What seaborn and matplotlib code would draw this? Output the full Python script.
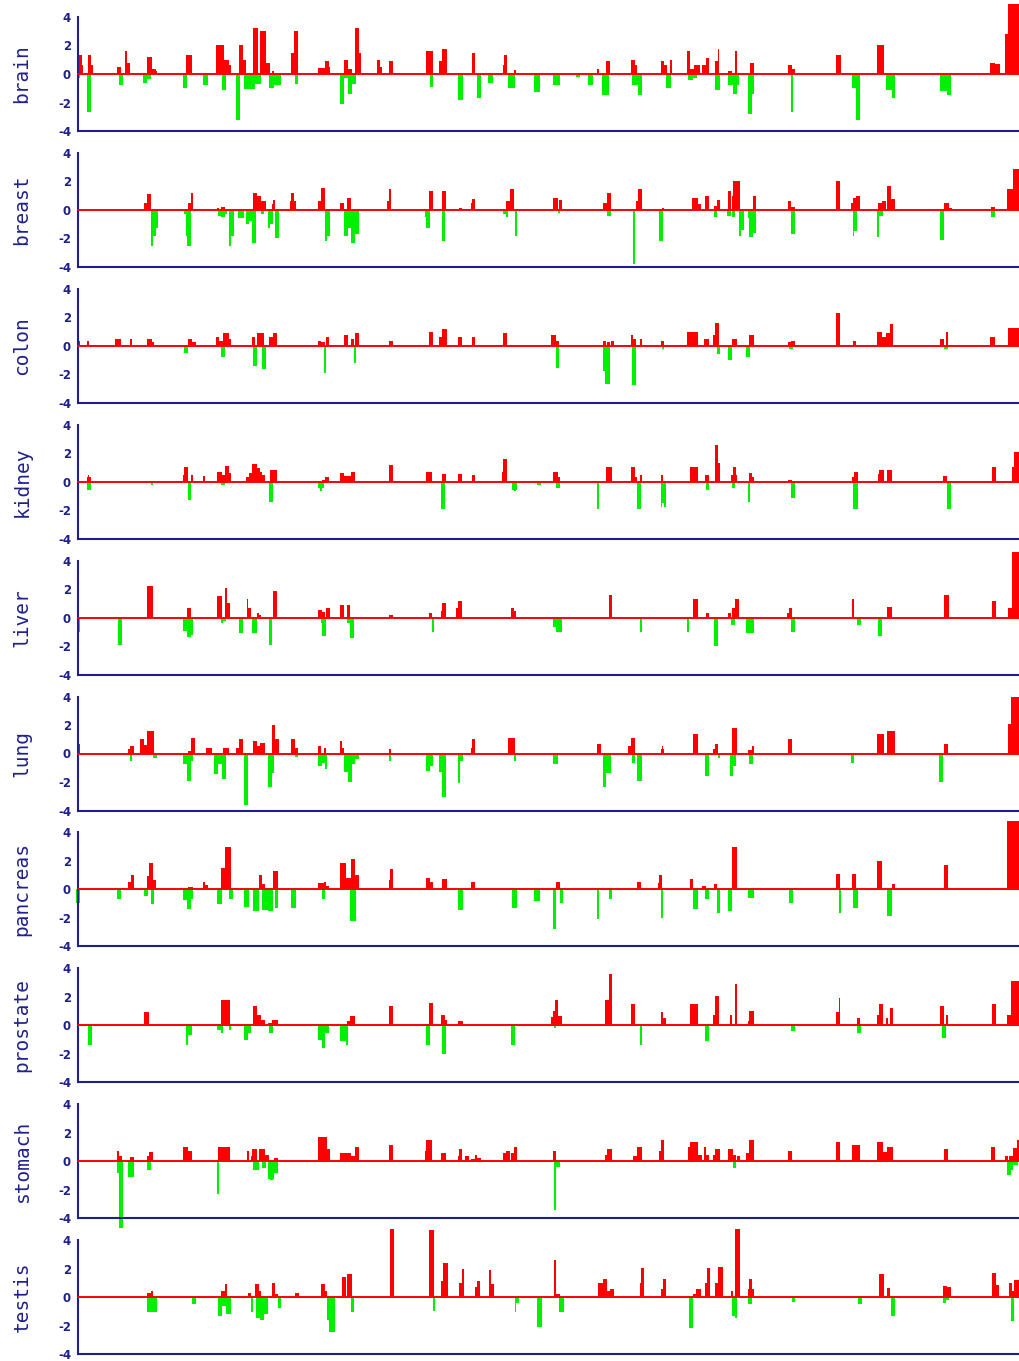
"""
Expression profile per tissue: red bars above zero, green bars below.
"""
import numpy as np
import pandas as pd
import matplotlib
matplotlib.use("Agg")
import matplotlib.pyplot as plt
import seaborn as sns

tissues = ["brain", "breast", "colon", "kidney", "liver",
           "lung", "pancreas", "prostate", "stomach", "testis"]

# spans along the position axis: (start, end, value)
brain_up = [(120, 126, 1.35), (126, 128, 0.6), (136, 140, 1.35), (140, 144, 0.6), (180, 186, 0.5),
            (192, 196, 1.6), (196, 200, 0.8), (226, 234, 1.2), (234, 240, 0.35), (240, 242, 0.2),
            (287, 296, 1.35), (333, 345, 2.05), (345, 352, 1.0), (352, 356, 0.6), (368, 374, 2.05),
            (374, 378, 1.0), (390, 397, 3.2), (400, 410, 3.0), (410, 416, 0.8), (418, 422, 0.2),
            (448, 452, 1.5), (452, 458, 3.0), (490, 500, 0.45), (500, 506, 0.9), (506, 508, 0.5),
            (530, 536, 1.0), (536, 542, 0.35), (546, 552, 3.2), (552, 556, 1.5), (580, 584, 1.0),
            (584, 588, 0.5), (598, 604, 0.9), (656, 666, 1.6), (676, 680, 0.9), (680, 688, 1.75),
            (726, 730, 1.5), (774, 776, 0.6), (776, 780, 1.35), (790, 794, 0.25), (918, 922, 0.35),
            (932, 938, 0.9), (970, 976, 1.0), (976, 980, 0.6), (1016, 1022, 0.9), (1022, 1026, 0.6),
            (1030, 1034, 1.0), (1056, 1062, 1.6), (1062, 1068, 0.35), (1068, 1076, 0.6),
            (1080, 1086, 0.6), (1086, 1090, 1.15), (1100, 1104, 0.9), (1104, 1106, 1.75),
            (1120, 1126, 0.2), (1130, 1134, 1.6), (1154, 1160, 0.8), (1212, 1218, 0.65),
            (1218, 1222, 0.35), (1286, 1294, 1.35), (1348, 1360, 2.05), (1522, 1530, 0.8),
            (1530, 1538, 0.7), (1545, 1550, 2.8), (1550, 1568, 4.9)]
brain_down = [(120, 124, -0.25), (134, 140, -2.7), (184, 190, -0.75), (220, 226, -0.6), (226, 232, -0.35),
              (282, 288, -0.95), (312, 320, -0.75), (342, 348, -1.1), (364, 370, -3.2), (376, 392, -1.05),
              (392, 402, -0.7), (414, 422, -0.95), (422, 432, -0.75), (454, 458, -0.7), (524, 530, -2.1),
              (530, 536, -0.25), (536, 542, -1.4), (542, 548, -0.7), (662, 666, -0.9), (704, 712, -1.85),
              (734, 740, -1.65), (750, 758, -0.65), (782, 792, -1.0), (822, 830, -1.25), (850, 862, -0.75),
              (886, 892, -0.2), (904, 912, -0.75), (926, 936, -1.5), (972, 982, -0.75), (982, 988, -1.5),
              (1024, 1032, -1.0), (1058, 1066, -0.45), (1066, 1072, -0.25), (1100, 1108, -1.15),
              (1120, 1128, -0.75), (1128, 1134, -1.4), (1134, 1136, -0.75), (1150, 1156, -2.8),
              (1156, 1160, -1.4), (1216, 1220, -2.7), (1310, 1316, -0.95), (1316, 1322, -3.25),
              (1362, 1372, -1.15), (1372, 1376, -1.65), (1446, 1456, -1.2), (1456, 1462, -1.45)]

breast_up = [(222, 226, 0.5), (226, 232, 1.1), (290, 294, 0.5), (294, 298, 1.2), (334, 338, 0.15),
             (340, 346, 0.2), (390, 396, 1.2), (396, 402, 1.0), (402, 410, 0.6), (418, 420, 0.4),
             (420, 424, 0.7), (446, 448, 0.6), (448, 452, 1.2), (452, 456, 0.6), (490, 494, 0.6),
             (494, 500, 1.55), (524, 530, 0.45), (534, 540, 0.85), (596, 598, 0.6), (598, 602, 1.45),
             (660, 666, 1.35), (680, 686, 1.35), (706, 710, 0.15), (724, 726, 0.45), (726, 730, 0.75),
             (778, 784, 0.6), (784, 790, 1.45), (850, 858, 0.85), (860, 864, 0.7), (928, 934, 0.45),
             (934, 940, 1.2), (978, 982, 0.6), (982, 988, 1.45), (1018, 1022, 0.15), (1064, 1074, 0.85),
             (1074, 1078, 0.4), (1084, 1090, 1.0), (1098, 1102, 0.3), (1102, 1108, 0.7),
             (1120, 1124, 1.3), (1126, 1128, 1.0), (1128, 1138, 2.0), (1158, 1162, 1.0),
             (1212, 1216, 0.6), (1216, 1222, 0.2), (1286, 1292, 2.0), (1308, 1312, 0.5),
             (1312, 1316, 0.85), (1316, 1322, 1.0), (1350, 1356, 0.5), (1356, 1362, 0.6),
             (1364, 1370, 1.7), (1370, 1376, 0.75), (1452, 1460, 0.45), (1460, 1464, 0.15),
             (1524, 1530, 0.2), (1548, 1558, 1.45), (1558, 1568, 2.9)]
breast_down = [(232, 236, -2.5), (236, 240, -1.8), (240, 244, -1.3), (284, 286, -0.3), (286, 288, -1.8),
               (288, 294, -2.5), (336, 340, -0.4), (340, 346, -0.5), (346, 350, -0.3), (352, 356, -2.5),
               (356, 360, -1.8), (366, 376, -0.6), (378, 384, -1.0), (384, 388, -0.8), (388, 394, -2.3),
               (402, 406, -0.3), (412, 416, -1.3), (416, 420, -1.0), (424, 430, -2.0), (500, 504, -2.2),
               (504, 508, -1.8), (530, 536, -1.8), (536, 540, -1.3), (540, 546, -2.3), (546, 552, -1.7),
               (654, 656, -0.5), (656, 662, -1.3), (680, 684, -2.2), (774, 778, -0.3), (778, 782, -0.5),
               (792, 796, -1.8), (858, 862, -0.2), (934, 940, -0.4), (974, 976, -3.8), (1014, 1020, -2.2),
               (1098, 1102, -0.5), (1118, 1124, -0.4), (1126, 1130, -0.5), (1136, 1140, -1.8),
               (1140, 1144, -1.4), (1150, 1152, -0.6), (1152, 1158, -1.9), (1158, 1162, -1.6),
               (1216, 1222, -1.7), (1312, 1314, -1.8), (1314, 1318, -1.5), (1348, 1352, -1.9),
               (1352, 1358, -0.4), (1446, 1452, -2.1), (1524, 1530, -0.5)]

colon_up = [(120, 124, 0.35), (134, 138, 0.35), (178, 186, 0.45), (200, 204, 0.45), (226, 234, 0.45),
            (234, 238, 0.25), (290, 296, 0.45), (296, 302, 0.25), (332, 338, 0.6), (338, 344, 0.35),
            (344, 352, 0.9), (352, 356, 0.45), (388, 392, 0.6), (396, 406, 0.9), (414, 420, 0.6),
            (420, 426, 0.9), (490, 494, 0.35), (494, 500, 0.25), (502, 506, 0.6), (530, 536, 0.75),
            (540, 544, 0.45), (546, 552, 0.9), (598, 604, 0.35), (660, 666, 1.0), (676, 680, 0.6),
            (680, 688, 1.2), (704, 710, 0.6), (726, 730, 0.6), (774, 780, 0.9), (848, 856, 0.75),
            (856, 860, 0.35), (928, 932, 0.35), (934, 938, 0.25), (940, 944, 0.35), (970, 974, 0.75),
            (974, 978, 0.45), (984, 988, 0.45), (1016, 1022, 0.35), (1056, 1074, 1.0),
            (1082, 1090, 0.45), (1096, 1100, 0.75), (1100, 1106, 1.6), (1126, 1134, 0.45),
            (1152, 1160, 0.75), (1212, 1216, 0.25), (1216, 1222, 0.35), (1286, 1292, 2.3),
            (1312, 1316, 0.35), (1348, 1356, 1.0), (1356, 1362, 0.6), (1362, 1368, 0.9),
            (1368, 1374, 1.5), (1446, 1452, 0.45), (1454, 1458, 1.0), (1522, 1530, 0.6),
            (1550, 1568, 1.25)]
colon_down = [(284, 290, -0.5), (340, 346, -0.8), (390, 396, -1.4), (404, 410, -1.6), (498, 502, -1.9),
              (544, 548, -1.2), (856, 860, -1.55), (928, 930, -1.8), (930, 938, -2.7), (972, 978, -2.75),
              (1018, 1022, -0.2), (1102, 1108, -0.6), (1120, 1126, -1.0), (1148, 1154, -0.8),
              (1214, 1220, -0.2), (1452, 1458, -0.2)]

kidney_up = [(134, 136, 0.35), (136, 138, 0.45), (138, 140, 0.35), (282, 284, 0.45), (284, 290, 1.0),
             (294, 298, 0.45), (312, 316, 0.4), (334, 342, 0.7), (342, 346, 0.45), (346, 352, 1.1),
             (352, 356, 0.6), (378, 384, 0.35), (384, 388, 0.6), (388, 396, 1.25), (396, 400, 0.95),
             (400, 404, 0.7), (404, 408, 0.45), (416, 426, 0.8), (496, 500, 0.15), (500, 506, 0.3),
             (524, 530, 0.6), (530, 540, 0.4), (540, 546, 0.7), (598, 604, 1.15), (656, 664, 0.65),
             (680, 686, 0.55), (704, 710, 0.55), (726, 730, 0.45), (772, 774, 0.7), (774, 780, 1.6),
             (850, 858, 0.7), (858, 862, 0.35), (932, 942, 1.0), (970, 976, 1.0), (976, 980, 0.35),
             (984, 988, 0.45), (1016, 1020, 0.45), (1062, 1074, 1.0), (1084, 1090, 0.45),
             (1100, 1104, 2.55), (1104, 1108, 1.3), (1124, 1128, 0.45), (1128, 1132, 1.0),
             (1132, 1134, 0.45), (1152, 1156, 0.6), (1156, 1160, 0.35), (1212, 1218, 0.15),
             (1310, 1314, 0.35), (1314, 1320, 0.65), (1350, 1352, 0.55), (1352, 1360, 0.8),
             (1364, 1372, 0.8), (1450, 1456, 0.4), (1526, 1532, 1.0), (1556, 1560, 1.0),
             (1560, 1568, 2.1)]
kidney_down = [(134, 140, -0.55), (232, 236, -0.2), (290, 294, -1.25), (340, 346, -0.2), (414, 420, -1.4),
               (490, 492, -0.45), (492, 496, -0.65), (496, 498, -0.45), (678, 684, -1.9), (788, 790, -0.55),
               (790, 794, -0.65), (794, 796, -0.55), (826, 832, -0.2), (856, 862, -0.45), (918, 922, -1.95),
               (980, 986, -1.95), (1016, 1018, -1.8), (1018, 1022, -1.5), (1022, 1024, -1.8),
               (1086, 1090, -0.55), (1126, 1130, -0.45), (1150, 1154, -1.4), (1216, 1222, -1.15),
               (1312, 1320, -1.9), (1456, 1462, -1.9)]

liver_up = [(226, 236, 2.25), (288, 294, 0.65), (334, 342, 1.55), (346, 350, 2.1), (350, 354, 1.05),
            (380, 382, 1.3), (382, 386, 0.65), (396, 398, 0.35), (398, 402, 0.2), (420, 426, 1.9),
            (490, 496, 0.5), (496, 500, 0.4), (502, 508, 0.65), (524, 530, 0.9), (534, 538, 0.9),
            (598, 604, 0.2), (660, 664, 0.35), (678, 680, 0.45), (680, 686, 1.0), (702, 704, 0.65),
            (704, 710, 1.2), (786, 790, 0.65), (790, 794, 0.45), (936, 942, 1.6), (1066, 1074, 1.3),
            (1086, 1090, 0.3), (1120, 1124, 0.3), (1126, 1130, 0.65), (1130, 1136, 1.3),
            (1210, 1214, 0.3), (1214, 1218, 0.65), (1310, 1314, 1.3), (1364, 1372, 0.75),
            (1452, 1460, 1.6), (1526, 1532, 1.2), (1550, 1556, 0.65), (1556, 1568, 4.6)]
liver_down = [(120, 124, -1.0), (182, 188, -1.9), (282, 288, -0.95), (288, 294, -1.35), (294, 298, -1.2),
              (340, 344, -0.4), (344, 348, -0.25), (368, 374, -1.05), (388, 396, -1.05), (414, 418, -1.9),
              (494, 496, -0.4), (496, 502, -1.3), (534, 538, -0.4), (538, 544, -1.4), (664, 668, -1.0),
              (850, 856, -0.65), (856, 864, -1.0), (984, 988, -1.0), (1056, 1060, -1.0),
              (1098, 1104, -2.0), (1124, 1130, -0.55), (1148, 1160, -1.05), (1216, 1222, -1.0),
              (1318, 1324, -0.55), (1350, 1356, -1.3)]

lung_up = [(120, 124, 0.65), (198, 200, 0.3), (200, 206, 0.55), (216, 222, 1.0), (222, 226, 0.6),
           (226, 238, 1.55), (290, 294, 0.2), (294, 300, 1.1), (318, 326, 0.4), (344, 352, 0.4),
           (364, 368, 0.4), (368, 374, 1.0), (390, 396, 0.85), (396, 400, 0.55), (400, 408, 0.75),
           (418, 424, 2.0), (424, 430, 1.0), (448, 454, 1.0), (454, 458, 0.4), (490, 494, 0.55),
           (498, 502, 0.4), (524, 526, 0.85), (526, 530, 0.4), (598, 602, 0.3), (724, 726, 0.4),
           (726, 730, 1.0), (782, 792, 1.1), (918, 924, 0.7), (966, 970, 0.55), (970, 976, 1.1),
           (1016, 1018, 0.3), (1018, 1020, 0.55), (1020, 1022, 0.3), (1066, 1074, 1.4),
           (1096, 1100, 0.35), (1100, 1104, 0.65), (1126, 1134, 1.8), (1150, 1156, 0.25),
           (1156, 1160, 0.55), (1212, 1218, 1.0), (1348, 1360, 1.4), (1364, 1376, 1.55),
           (1452, 1458, 0.7), (1550, 1554, 2.1), (1554, 1568, 4.0)]
lung_down = [(200, 204, -0.5), (236, 242, -0.3), (282, 288, -0.75), (288, 294, -1.9), (294, 298, -0.55),
             (330, 336, -1.45), (336, 342, -0.75), (342, 348, -1.8), (376, 382, -3.6), (412, 418, -2.35),
             (418, 422, -1.4), (454, 458, -0.25), (490, 496, -0.85), (496, 500, -0.65), (500, 504, -1.1),
             (530, 536, -1.3), (536, 542, -2.0), (542, 546, -0.75), (546, 552, -0.4), (598, 602, -0.5),
             (656, 662, -1.25), (662, 666, -0.85), (676, 680, -1.3), (680, 686, -3.05), (704, 708, -2.1),
             (708, 712, -0.5), (790, 794, -0.5), (850, 858, -0.75), (928, 932, -2.35), (932, 940, -1.4),
             (972, 976, -0.7), (980, 988, -1.9), (1084, 1090, -1.55), (1104, 1108, -0.3),
             (1122, 1128, -1.6), (1128, 1132, -0.85), (1152, 1158, -0.75), (1308, 1314, -0.65),
             (1444, 1450, -2.0)]

pancreas_up = [(198, 202, 0.5), (202, 206, 1.0), (226, 230, 0.95), (230, 236, 1.85), (236, 240, 0.65),
               (286, 290, 0.1), (290, 298, 0.15), (312, 316, 0.55), (316, 320, 0.3), (340, 346, 1.5),
               (346, 356, 2.95), (398, 404, 1.0), (404, 408, 0.4), (420, 428, 1.3), (490, 498, 0.45),
               (498, 502, 0.55), (502, 506, 0.25), (524, 532, 1.85), (532, 540, 0.8), (540, 546, 2.1),
               (546, 552, 1.0), (598, 600, 0.65), (600, 604, 1.4), (656, 662, 0.8), (662, 666, 0.5),
               (680, 688, 0.7), (724, 730, 0.55), (856, 862, 0.55), (930, 938, 0.12), (980, 986, 0.55),
               (1012, 1014, 0.45), (1014, 1018, 1.0), (1062, 1066, 0.7), (1066, 1074, 0.12),
               (1080, 1086, 0.25), (1098, 1102, 0.4), (1126, 1134, 2.95), (1286, 1292, 1.1),
               (1310, 1316, 1.1), (1348, 1356, 2.0), (1372, 1376, 0.4), (1452, 1458, 1.7),
               (1526, 1532, 0.12), (1548, 1568, 4.8)]
pancreas_down = [(118, 124, -0.95), (180, 186, -0.7), (222, 228, -0.45), (232, 238, -1.0), (282, 288, -0.75),
                 (288, 294, -1.35), (294, 298, -0.7), (334, 342, -1.05), (352, 358, -0.65), (376, 384, -1.2),
                 (390, 398, -1.5), (404, 412, -1.45), (412, 420, -1.5), (424, 428, -1.3), (448, 456, -1.3),
                 (496, 500, -0.7), (538, 548, -2.25), (704, 712, -1.45), (788, 796, -1.3), (822, 830, -0.8),
                 (850, 856, -2.8), (862, 866, -0.95), (918, 922, -2.05), (936, 942, -0.65),
                 (1016, 1020, -2.0), (1066, 1074, -1.35), (1084, 1090, -0.7), (1102, 1108, -1.65),
                 (1120, 1126, -1.5), (1150, 1160, -0.6), (1214, 1220, -0.95), (1290, 1294, -1.65),
                 (1312, 1320, -1.3), (1364, 1372, -1.9)]

prostate_up = [(222, 230, 0.9), (340, 354, 1.75), (390, 396, 1.35), (396, 402, 0.75), (402, 408, 0.4),
               (412, 418, 0.15), (418, 428, 0.4), (534, 538, 0.3), (538, 546, 0.65), (598, 604, 1.35),
               (660, 666, 1.6), (678, 684, 0.75), (684, 688, 0.35), (704, 712, 0.3), (848, 850, 0.55),
               (850, 854, 1.0), (854, 858, 1.75), (858, 864, 0.65), (930, 936, 1.75), (936, 942, 3.6),
               (970, 976, 1.5), (1016, 1020, 0.9), (1020, 1024, 0.5), (1062, 1074, 1.5),
               (1096, 1100, 0.75), (1100, 1106, 2.05), (1122, 1126, 0.75), (1130, 1134, 2.9),
               (1150, 1152, 0.3), (1152, 1160, 1.0), (1286, 1290, 0.9), (1290, 1292, 1.95),
               (1318, 1322, 0.5), (1348, 1352, 0.75), (1352, 1358, 1.5), (1362, 1366, 0.5),
               (1368, 1374, 1.2), (1446, 1452, 1.35), (1454, 1458, 0.75), (1526, 1532, 1.5),
               (1548, 1554, 0.75), (1554, 1568, 3.1)]
prostate_down = [(136, 142, -1.4), (286, 290, -1.35), (290, 296, -0.65), (334, 340, -0.3), (340, 344, -0.55),
                 (352, 356, -0.3), (376, 382, -1.0), (382, 386, -0.55), (414, 420, -0.55), (490, 496, -1.0),
                 (496, 500, -1.6), (500, 506, -0.55), (524, 532, -1.1), (532, 536, -1.4), (656, 662, -1.4),
                 (680, 686, -2.0), (786, 792, -1.35), (852, 856, -0.2), (984, 988, -1.4),
                 (1084, 1090, -1.1), (1216, 1222, -0.4), (1318, 1324, -0.55), (1448, 1454, -0.9)]

stomach_up = [(180, 184, 0.75), (184, 188, 0.35), (200, 206, 0.3), (226, 230, 0.35), (230, 236, 0.65),
              (282, 290, 1.0), (290, 296, 0.75), (336, 354, 1.0), (380, 384, 0.75), (386, 388, 0.4),
              (388, 396, 0.85), (398, 408, 0.85), (408, 414, 0.45), (422, 428, 0.25), (490, 504, 1.7),
              (504, 508, 0.85), (524, 540, 0.6), (540, 546, 0.35), (546, 552, 1.0), (598, 604, 1.15),
              (654, 656, 0.75), (656, 664, 1.5), (678, 686, 0.6), (704, 706, 0.35), (706, 710, 0.85),
              (716, 722, 0.4), (724, 730, 0.15), (730, 734, 0.45), (734, 740, 0.25), (774, 778, 0.55),
              (778, 784, 0.75), (786, 790, 0.55), (790, 796, 1.0), (850, 856, 0.75), (930, 934, 0.45),
              (934, 942, 0.85), (974, 980, 0.4), (980, 988, 1.0), (1014, 1016, 0.7), (1016, 1022, 1.5),
              (1058, 1062, 1.0), (1062, 1074, 1.35), (1074, 1080, 0.45), (1082, 1086, 1.0),
              (1086, 1090, 0.45), (1096, 1100, 0.45), (1100, 1108, 0.85), (1120, 1128, 0.85),
              (1128, 1132, 0.45), (1134, 1138, 0.35), (1148, 1152, 0.55), (1152, 1160, 1.5),
              (1212, 1218, 0.75), (1286, 1292, 1.35), (1310, 1322, 1.15), (1348, 1358, 1.35),
              (1358, 1364, 0.65), (1364, 1374, 1.0), (1452, 1458, 0.85), (1524, 1530, 1.0),
              (1546, 1550, 0.35), (1552, 1558, 0.4), (1558, 1564, 0.95), (1564, 1568, 1.5)]
stomach_down = [(180, 184, -0.8), (184, 190, -4.7), (198, 206, -1.1), (226, 232, -0.6), (334, 338, -2.3),
                (390, 398, -0.6), (404, 410, -0.5), (412, 416, -1.25), (416, 420, -1.35), (420, 422, -1.25),
                (422, 428, -0.8), (852, 856, -3.4), (856, 862, -0.4), (1128, 1132, -0.5),
                (1548, 1554, -0.95), (1554, 1558, -0.6), (1558, 1566, -0.3)]

testis_up = [(226, 232, 0.3), (232, 236, 0.45), (340, 346, 0.4), (346, 350, 0.9), (382, 386, 0.3),
             (392, 398, 0.9), (398, 402, 0.4), (418, 424, 1.0), (424, 428, 0.2), (454, 460, 0.3),
             (494, 500, 0.9), (500, 504, 0.4), (526, 532, 1.4), (534, 542, 1.6), (600, 606, 4.8),
             (660, 668, 4.7), (678, 682, 1.15), (682, 690, 2.4), (706, 710, 1.0), (710, 714, 2.0),
             (730, 734, 0.7), (734, 738, 1.15), (752, 756, 1.9), (756, 760, 0.9), (852, 856, 2.6),
             (856, 862, 0.2), (920, 928, 1.0), (928, 934, 1.3), (934, 938, 0.4), (938, 944, 0.55),
             (984, 986, 1.0), (986, 990, 2.05), (1016, 1020, 0.55), (1020, 1024, 1.3),
             (1066, 1070, 0.2), (1070, 1078, 0.55), (1084, 1088, 1.0), (1088, 1092, 2.05),
             (1100, 1104, 1.0), (1104, 1112, 2.1), (1124, 1128, 0.4), (1130, 1138, 4.8),
             (1150, 1152, 0.55), (1152, 1156, 1.3), (1156, 1160, 0.55), (1352, 1360, 1.6),
             (1364, 1368, 0.65), (1450, 1456, 0.75), (1456, 1462, 0.7), (1526, 1532, 1.7),
             (1532, 1536, 0.85), (1552, 1556, 1.0), (1556, 1560, 0.4), (1560, 1568, 1.2)]
testis_down = [(226, 242, -1.05), (296, 302, -0.5), (336, 342, -1.35), (342, 348, -0.65), (348, 356, -1.2),
               (386, 390, -1.05), (394, 400, -1.45), (400, 406, -1.6), (406, 412, -1.2), (428, 432, -0.75),
               (504, 506, -1.6), (506, 516, -2.45), (540, 544, -1.05), (666, 670, -0.95), (792, 794, -1.05),
               (794, 798, -0.4), (826, 834, -2.1), (860, 868, -1.05), (1060, 1066, -2.15),
               (1126, 1130, -1.35), (1130, 1134, -1.5), (1150, 1156, -0.5), (1218, 1222, -0.35),
               (1320, 1326, -0.5), (1370, 1376, -1.3), (1450, 1454, -0.4), (1454, 1460, -0.2),
               (1554, 1560, -1.7)]

up_spans = [brain_up, breast_up, colon_up, kidney_up, liver_up,
            lung_up, pancreas_up, prostate_up, stomach_up, testis_up]
down_spans = [brain_down, breast_down, colon_down, kidney_down, liver_down,
              lung_down, pancreas_down, prostate_down, stomach_down, testis_down]

POS_MIN, POS_MAX = 120, 1568
yticks = [4, 2, 0, -2, -4]

NAVY = "#20208c"
RED = "#ff0000"
GREEN = "#00f000"


def spans_to_frame(spans, sign):
    """Expand (start, end, value) spans into one row per position."""
    vals = {}
    for start, end, v in spans:
        for p in range(start, end):
            vals[p] = v
    return pd.DataFrame({"pos": list(vals.keys()),
                         "value": list(vals.values()),
                         "sign": sign})


sns.set_style("white")
plt.rcParams["font.family"] = ["DejaVu Sans"]

W, H = 1020, 1361
fig = plt.figure(figsize=(W / 100, H / 100), dpi=100)

top0, step, axh = 17, 135.9, 114
left, axw = 78, 942

for i, name in enumerate(tissues):
    top = top0 + step * i
    ax = fig.add_axes([left / W, 1 - (top + axh) / H, axw / W, axh / H])

    df = pd.concat([spans_to_frame(up_spans[i], "up"),
                    spans_to_frame(down_spans[i], "down")], ignore_index=True)
    sns.barplot(data=df, x="pos", y="value", hue="sign",
                palette={"up": RED, "down": GREEN}, saturation=1,
                native_scale=True, dodge=False, width=1.0, errorbar=None,
                linewidth=0, legend=False, ax=ax,
                clip_on=False, antialiased=False)

    ax.axhline(0, color=RED, lw=1.4, zorder=5, clip_on=False)
    ax.set_xlim(POS_MIN, POS_MAX)
    ax.set_ylim(-4, 4)
    ax.set_xticks([])
    ax.set_yticks(yticks)
    ax.set_yticklabels([str(t) for t in yticks], color=NAVY,
                       fontsize=8.5, fontweight="bold")
    ax.tick_params(axis="y", length=0, pad=5)
    ax.set_xlabel("")
    ax.set_ylabel(name, family=["DejaVu Sans Mono"], fontsize=14,
                  color=NAVY, va="center")
    ax.yaxis.set_label_coords(-(left - 22) / axw, 0.5)

    for side in ["top", "right"]:
        ax.spines[side].set_visible(False)
    for side in ["left", "bottom"]:
        ax.spines[side].set_color(NAVY)
        ax.spines[side].set_linewidth(1.5)
    ax.patch.set_alpha(0)

fig.savefig("out.png", dpi=100)
